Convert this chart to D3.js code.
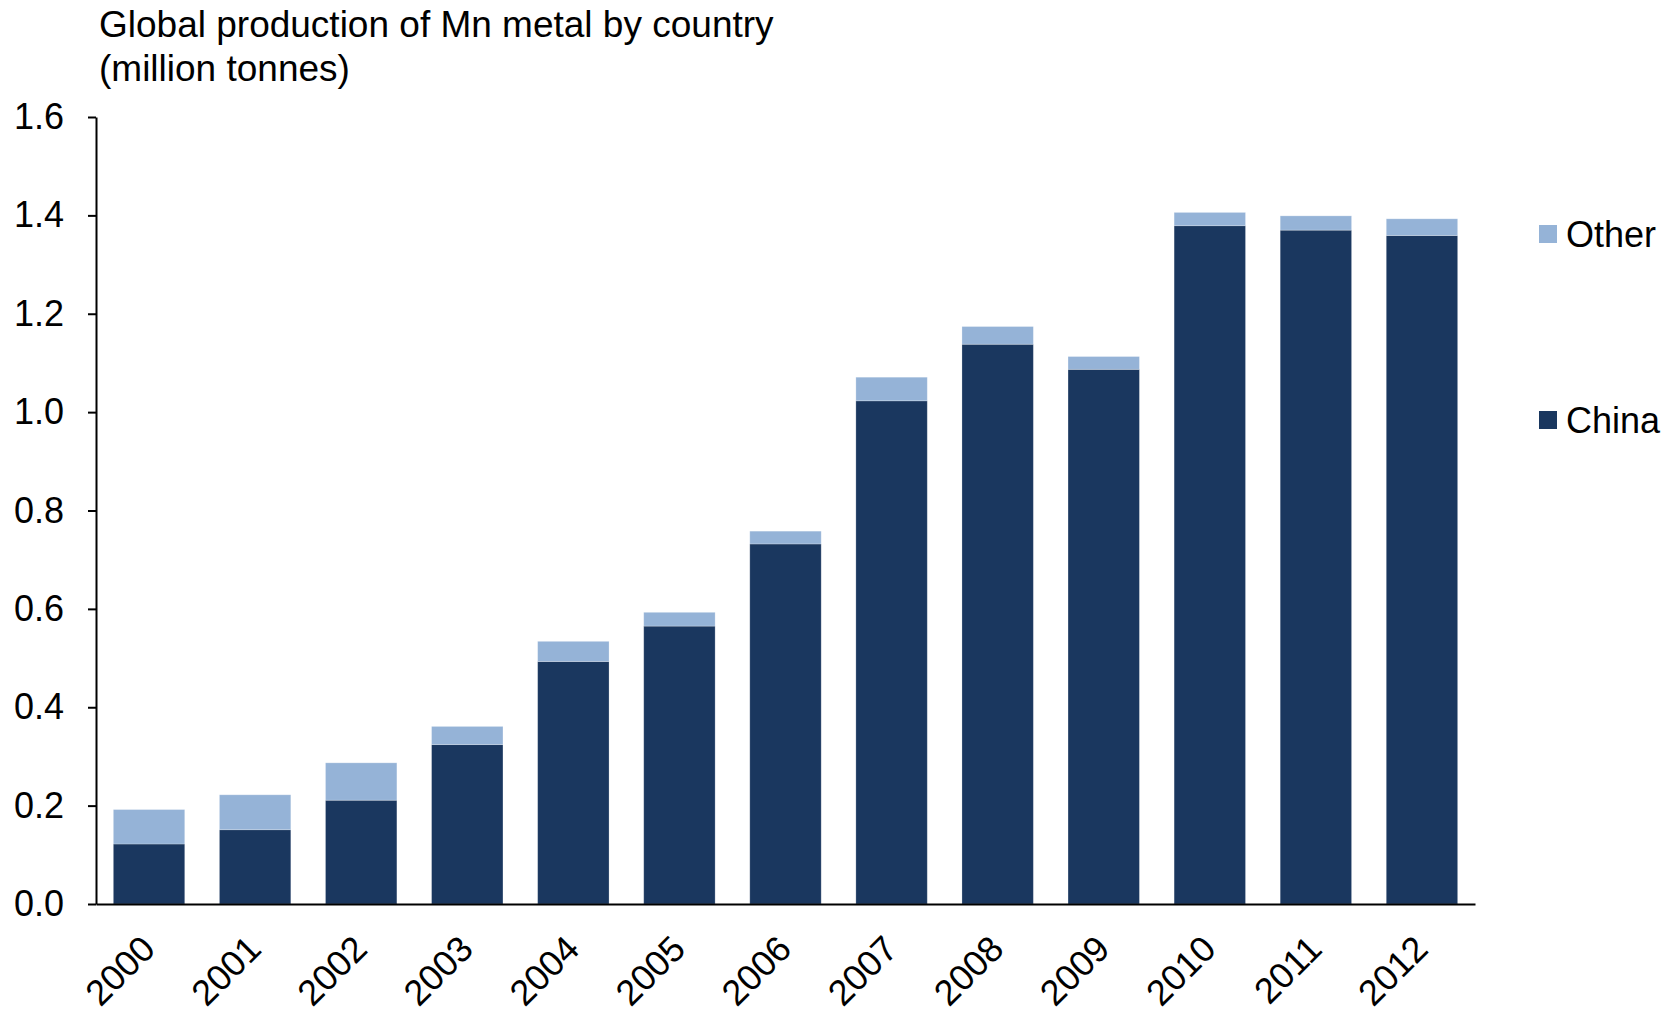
<!DOCTYPE html>
<html>
<head>
<meta charset="utf-8">
<script src="https://cdn.jsdelivr.net/npm/d3@7"></script>
<style>
  html, body { margin: 0; padding: 0; background: #ffffff; }
  svg { display: block; font-family: "Liberation Sans", Arial, Helvetica, sans-serif; }
</style>
</head>
<body>
<svg id="chart" width="1670" height="1014"></svg>
<script>
// Global Mn metal production (million tonnes)
const years = ["2000","2001","2002","2003","2004","2005","2006","2007","2008","2009","2010","2011","2012"];
const china = [0.122, 0.151, 0.211, 0.324, 0.493, 0.565, 0.732, 1.023, 1.138, 1.087, 1.379, 1.370, 1.359];
const other = [0.070, 0.071, 0.076, 0.037, 0.041, 0.028, 0.026, 0.048, 0.036, 0.026, 0.027, 0.029, 0.034];
const yTicks = [0, 0.2, 0.4, 0.6, 0.8, 1.0, 1.2, 1.4, 1.6];
const seriesNames = ["China", "Other"];
const seriesColors = { China: "#1a375f", Other: "#95b3d7" };
const titleLines = ["Global production of Mn metal by country", "(million tonnes)"];
const legendOrder = ["Other", "China"];

const svg = d3.select("#chart");
const margin = { left: 96, right: 195, top: 117, bottom: 110 };
const W = 1670, H = 1014;
const x0 = margin.left, x1 = W - margin.right;
const yBase = H - margin.bottom, yTop = margin.top;

const rows = years.map((yr, i) => ({ year: yr, China: china[i], Other: other[i] }));
const stacked = d3.stack().keys(seriesNames)(rows);

const x = d3.scaleBand().domain(years).range([x0, x1]).paddingInner(0.327).paddingOuter(0.1635);
const y = d3.scaleLinear().domain([0, 1.6]).range([yBase, yTop]);

// Stacked bars
svg.append("g").selectAll("g")
  .data(stacked)
  .join("g")
  .attr("fill", d => seriesColors[d.key])
  .selectAll("rect")
  .data(d => d)
  .join("rect")
  .attr("x", d => x(d.data.year))
  .attr("width", x.bandwidth())
  .attr("y", d => y(d[1]))
  .attr("height", d => y(d[0]) - y(d[1]))
  .attr("stroke", "#ffffff")
  .attr("stroke-opacity", 0.3)
  .attr("stroke-width", 0.8);

// Y axis
const yAxis = svg.append("g")
  .attr("transform", `translate(${x0},0)`)
  .call(d3.axisLeft(y).tickValues(yTicks).tickFormat(d3.format(".1f")).tickSize(8).tickPadding(24).tickSizeOuter(0));
yAxis.select(".domain").attr("stroke", "#000").attr("stroke-width", 2);
yAxis.selectAll(".tick line").attr("stroke", "#000").attr("stroke-width", 2);
yAxis.selectAll(".tick text").attr("font-size", 36).attr("fill", "#000")
  .attr("font-family", "Liberation Sans, Arial, sans-serif");

// X axis with rotated year labels
const xAxis = svg.append("g")
  .attr("transform", `translate(0,${yBase})`)
  .call(d3.axisBottom(x).tickSize(0).tickSizeOuter(0));
xAxis.select(".domain").attr("stroke", "#000").attr("stroke-width", 2);
xAxis.selectAll(".tick text")
  .attr("font-size", 36)
  .attr("fill", "#000")
  .attr("font-family", "Liberation Sans, Arial, sans-serif")
  .attr("text-anchor", "end")
  .attr("dy", null)
  .attr("y", 0)
  .attr("transform", "translate(8,47) rotate(-45)");

// Title
const title = svg.append("text")
  .attr("x", 99)
  .attr("font-size", 37)
  .attr("fill", "#000");
title.selectAll("tspan")
  .data(titleLines)
  .join("tspan")
  .attr("x", 99)
  .attr("y", (d, i) => 37 + i * 44)
  .text(d => d);

// Legend
const legendY = { Other: 234, China: 420 };
const legend = svg.append("g").selectAll("g")
  .data(legendOrder)
  .join("g")
  .attr("transform", d => `translate(1539,${legendY[d]})`);
legend.append("rect")
  .attr("x", 0).attr("y", -9)
  .attr("width", 18).attr("height", 18)
  .attr("fill", d => seriesColors[d]);
legend.append("text")
  .attr("x", 27).attr("y", 13)
  .attr("font-size", 36)
  .attr("fill", "#000")
  .text(d => d);
</script>
</body>
</html>
